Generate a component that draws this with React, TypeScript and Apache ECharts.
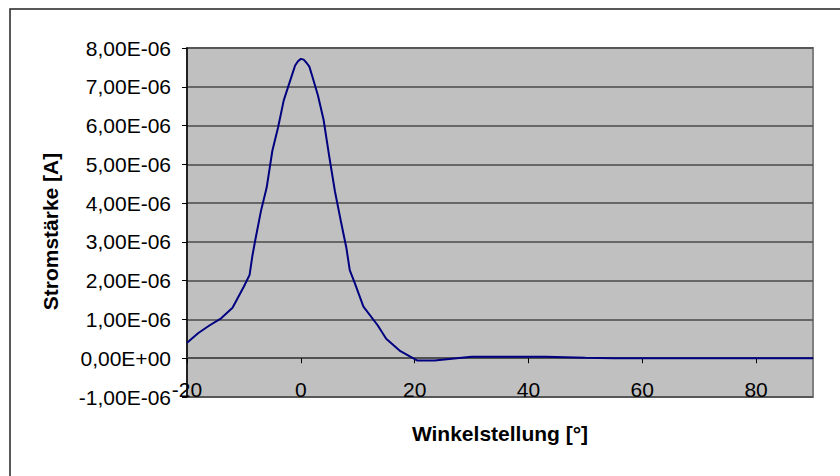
import React, { useEffect, useRef } from "react";
import * as echarts from "echarts";

const angles = [-20, -18, -16, -14, -12, -10, -9, -8.5, -8, -7, -6, -5, -4, -3, -2, -1, -0.5, 0, 0.5, 1, 1.5, 2, 3, 4, 5, 6, 7, 8, 8.6, 9.5, 11, 13.5, 15, 17.5, 20.5, 23.5, 30, 40, 43, 50, 55, 60, 70, 80, 90];
const currents = [0.40, 0.65, 0.85, 1.03, 1.30, 1.85, 2.15, 2.65, 3.05, 3.80, 4.40, 5.35, 5.95, 6.65, 7.10, 7.55, 7.66, 7.72, 7.70, 7.62, 7.52, 7.28, 6.78, 6.15, 5.20, 4.30, 3.56, 2.85, 2.27, 1.93, 1.33, 0.85, 0.50, 0.18, -0.06, -0.06, 0.04, 0.04, 0.04, 0.01, 0.0, 0.0, 0.0, 0.0, 0.0];
const currentScale = 1e-6;

const xTicks = { min: -20, max: 90, interval: 20 };
const yTicks = { min: -1e-6, max: 8e-6, interval: 1e-6 };

const xName = "Winkelstellung [°]";
const yName = "Stromstärke [A]";

function fmtSci(v: number): string {
  const r = Math.round(v * 1e9) / 1e9;
  if (Math.abs(r) < 1e-12) return "0,00E+00";
  const s = r.toExponential(2);
  const [m, e] = s.split("e");
  const en = parseInt(e, 10);
  const sign = en < 0 ? "-" : "+";
  return m.replace(".", ",") + "E" + sign + String(Math.abs(en)).padStart(2, "0");
}

export default function App() {
  const ref = useRef<HTMLDivElement>(null);
  useEffect(() => {
    if (!ref.current) return;
    const chart = echarts.init(ref.current, undefined, { renderer: "svg" });
    const font = "'Liberation Sans', Arial, sans-serif";
    const data = angles.map((a, i) => [a, currents[i] * currentScale]);
    chart.setOption({
      animation: false,
      backgroundColor: "#ffffff",
      textStyle: { fontFamily: font },
      grid: {
        left: 187,
        right: 27,
        top: 48,
        bottom: 79,
        outerBoundsMode: "none",
        containLabel: false,
        show: true,
        backgroundColor: "#c0c0c0",
        borderColor: "#808080",
        borderWidth: 2,
      },
      xAxis: {
        type: "value",
        min: xTicks.min,
        max: xTicks.max,
        interval: xTicks.interval,
        name: xName,
        nameLocation: "middle",
        nameGap: 26,
        nameTextStyle: { fontFamily: font, fontSize: 21, fontWeight: "bold", color: "#000" },
        axisLine: { show: true, onZero: true, lineStyle: { color: "#4a4a4a", width: 1.5 } },
        axisTick: { show: true, length: 5, lineStyle: { color: "#000", width: 1 } },
        axisLabel: {
          fontFamily: font,
          fontSize: 21,
          color: "#000",
          margin: -18,
          showMaxLabel: false,
          formatter: (v: number) => (v === 90 ? "" : String(v)),
        },
        splitLine: { show: false },
      },
      yAxis: {
        type: "value",
        min: yTicks.min,
        max: yTicks.max,
        interval: yTicks.interval,
        name: yName,
        nameLocation: "middle",
        nameGap: 126,
        nameTextStyle: {
          fontFamily: font,
          fontSize: 21,
          fontWeight: "bold",
          color: "#000",
          padding: [0, 18, 0, 0],
        },
        axisLine: { show: true, onZero: false, lineStyle: { color: "#000", width: 1.5 } },
        axisTick: { show: true, length: 5, lineStyle: { color: "#000", width: 1 } },
        axisLabel: {
          fontFamily: font,
          fontSize: 21,
          color: "#000",
          margin: 16,
          formatter: fmtSci,
        },
        splitLine: { show: true, lineStyle: { color: "#4a4a4a", width: 1.5 } },
      },
      graphic: [
        {
          type: "rect",
          shape: { x: 10, y: 9, width: 860, height: 500 },
          style: { fill: "none", stroke: "#222", lineWidth: 1.5 },
          z: 100,
        },
      ],
      series: [
        {
          type: "line",
          data,
          showSymbol: false,
          symbol: "none",
          lineStyle: { color: "#000080", width: 2 },
          z: 10,
        },
      ],
    });
    return () => chart.dispose();
  }, []);
  return (
    <div
      ref={ref}
      style={{ position: "absolute", left: 0, top: 0, width: 840, height: 476 }}
    />
  );
}
